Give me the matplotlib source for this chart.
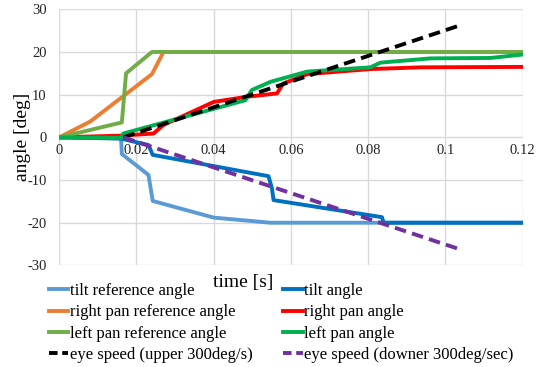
import matplotlib
matplotlib.use("Agg")
import matplotlib.pyplot as plt
from matplotlib.lines import Line2D

plt.rcParams['font.family'] = ['Liberation Serif', 'DejaVu Serif']
plt.rcParams['axes.unicode_minus'] = False

# data (time [s], angle [deg])
tilt_ref_t = [0.0, 0.016, 0.0162, 0.0231, 0.0242, 0.040, 0.0547, 0.12]
tilt_ref_y = [0.0, -0.2, -3.9, -8.8, -14.9, -18.8, -20.0, -20.0]

tilt_t = [0.0, 0.016, 0.0231, 0.0242, 0.0542, 0.0551, 0.0555, 0.0836, 0.084, 0.12]
tilt_y = [0.0, -0.3, -1.8, -4.1, -9.1, -12.0, -14.7, -18.7, -20.0, -20.0]

rpan_ref_t = [0.0, 0.008, 0.024, 0.027, 0.12]
rpan_ref_y = [0.0, 3.7, 14.8, 20.0, 20.0]

rpan_t = [0.0, 0.016, 0.0244, 0.027, 0.040, 0.0486, 0.0564, 0.058, 0.0642, 0.0806, 0.0936, 0.12]
rpan_y = [0.0, 0.4, 0.9, 2.9, 8.3, 9.5, 10.3, 12.6, 14.8, 16.0, 16.4, 16.5]

lpan_ref_t = [0.0, 0.0162, 0.0173, 0.024, 0.12]
lpan_ref_y = [0.0, 3.5, 15.0, 20.0, 20.0]

lpan_t = [0.0, 0.016, 0.0166, 0.0482, 0.0499, 0.0547, 0.0642, 0.0806, 0.0832, 0.0962, 0.1117, 0.12]
lpan_y = [0.0, -0.1, 0.9, 8.7, 11.1, 13.0, 15.4, 16.4, 17.5, 18.5, 18.6, 19.4]

eye_up_t = [0.0166, 0.104]
eye_up_y = [0.0, 26.3]
eye_dn_t = [0.0166, 0.104]
eye_dn_y = [0.0, -26.3]

labels = ["tilt reference angle", "tilt angle",
          "right pan reference angle", "right pan angle",
          "left pan reference angle", "left pan angle",
          "eye speed (upper 300deg/s)", "eye speed (downer 300deg/sec)"]
colors = ["#5B9BD5", "#0070C0", "#ED7D31", "#FF0000",
          "#70AD47", "#00B050", "#000000", "#7030A0"]

xticks = [0, 0.02, 0.04, 0.06, 0.08, 0.1, 0.12]
xticklabels = ["0", "0.02", "0.04", "0.06", "0.08", "0.1", "0.12"]
yticks = [-30, -20, -10, 0, 10, 20, 30]

fig = plt.figure(figsize=(5.48, 3.67), dpi=100)
ax = fig.add_axes([0.1082, 0.2768, 0.9535 - 0.1082, 0.9747 - 0.2768])

lw = 2.8
DASH = (3, 1.6)
series = [(tilt_ref_t, tilt_ref_y), (tilt_t, tilt_y),
          (rpan_ref_t, rpan_ref_y), (rpan_t, rpan_y),
          (lpan_ref_t, lpan_ref_y), (lpan_t, lpan_y),
          (eye_up_t, eye_up_y), (eye_dn_t, eye_dn_y)]
for i, ((t, y), lab, c) in enumerate(zip(series, labels, colors)):
    if i >= 6:
        ax.plot(t, y, color=c, lw=lw, label=lab, dashes=DASH)
    else:
        ax.plot(t, y, color=c, lw=lw, label=lab, solid_joinstyle='round')

ax.set_xlim(0, 0.12)
ax.set_ylim(-30, 30)
ax.set_xticks(xticks)
ax.set_xticklabels(xticklabels)
ax.set_yticks(yticks)
ax.grid(True, color="#D9D9D9", lw=1.0)
ax.set_axisbelow(True)
for s in ['top', 'right', 'left']:
    ax.spines[s].set_visible(False)
ax.spines['bottom'].set_position(('data', 0))
ax.spines['bottom'].set_color('none')
ax.tick_params(axis='both', length=0, labelsize=10.5, colors='#222222')
ax.tick_params(axis='x', pad=5)
ax.tick_params(axis='y', pad=9)

fig.text(23 / 548, 1 - 137 / 367, "angle [deg]", rotation=90, ha='center', va='center', fontsize=14)
fig.text(243 / 548, 1 - 282 / 367, "time [s]", ha='center', va='center', fontsize=14)

leg_handles = []
for i, c in enumerate(colors):
    if i >= 6:
        leg_handles.append(Line2D([], [], color=c, lw=lw, dashes=(2.2, 1.2)))
    else:
        leg_handles.append(Line2D([], [], color=c, lw=lw))
# column-major order for two columns: left column = even items, right = odd items
order = [0, 2, 4, 6, 1, 3, 5, 7]
fig.legend([leg_handles[i] for i in order], [labels[i] for i in order],
           ncol=2, loc='upper left',
           bbox_to_anchor=(49 / 548, 1 - 283 / 367), frameon=False,
           fontsize=12, handlelength=1.15, handletextpad=0.1,
           columnspacing=1.85, labelspacing=0.32, borderaxespad=0, borderpad=0)

fig.savefig("out.png", dpi=100)
